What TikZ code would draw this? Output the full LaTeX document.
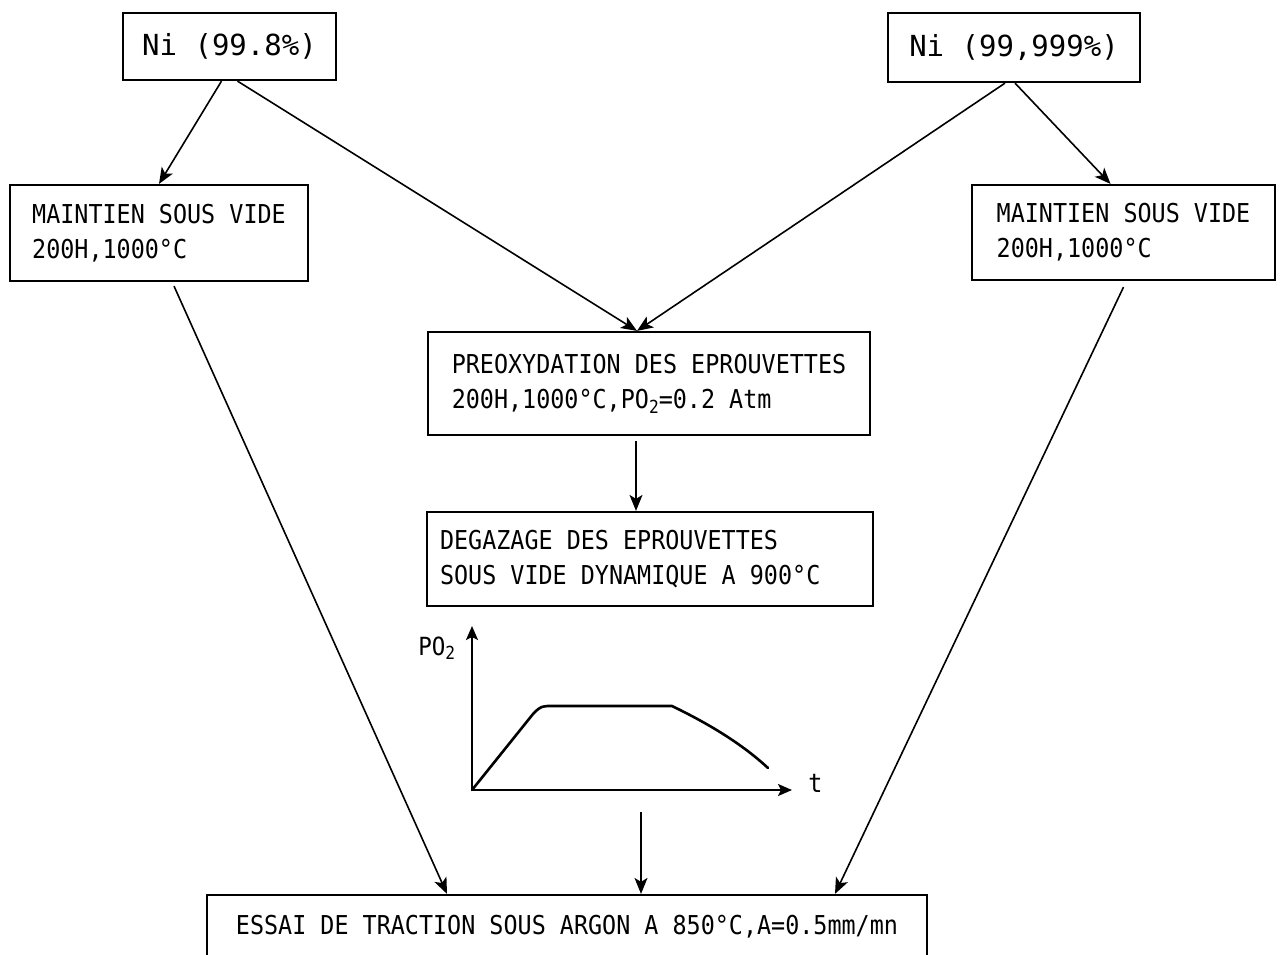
\documentclass[tikz,border=0pt]{standalone}
\usepackage{fontspec}
\newfontfamily\plotfont[FakeStretch=0.9]{DejaVu Sans Mono}
\newfontfamily\plotwide{DejaVu Sans Mono}
\usetikzlibrary{arrows.meta,calc}
\newcommand\subtwo{\raisebox{-0.35ex}{\fontsize{9}{9}\selectfont 2}}
\begin{document}
\begin{tikzpicture}[x=0.5pt,y=-0.5pt,
  box/.style={draw,line width=1.1pt,rectangle,inner sep=0pt,align=left,
    font={\plotfont\fontsize{13}{17.5}\selectfont}},
  nibox/.style={draw,line width=1.1pt,rectangle,inner sep=0pt,
    font={\plotwide\fontsize{14.5}{17}\selectfont}},
  conn/.style={line width=0.8pt,-{Stealth[length=8pt,width=6.5pt,inset=2pt]}},
  axis/.style={line width=1.1pt,-{Stealth[length=7pt,width=6pt,inset=1.5pt]}},
  curve/.style={line width=1.3pt,line cap=round,line join=round},
  lab/.style={inner sep=0pt,font={\plotfont\fontsize{13}{15}\selectfont}}]
\useasboundingbox (0,0) rectangle (1285,954);
\fill[white] (0,0) rectangle (1285,954);
\clip (0,0) rectangle (1285,954);

\node[nibox,minimum width=106.5pt,minimum height=33.5pt] (ni1) at (229.5,46.5) {Ni (99.8\%)};
\node[nibox,minimum width=126pt,minimum height=34.5pt] (ni2) at (1014,47.5) {Ni (99,999\%)};

\node[box,minimum width=149pt,minimum height=48pt] (m1) at (159,233)
  {MAINTIEN SOUS VIDE\\200H,1000°C};
\node[box,minimum width=151.5pt,minimum height=47.5pt] (m2) at (1123.5,232.5)
  {MAINTIEN SOUS VIDE\\200H,1000°C};

\node[box,minimum width=221pt,minimum height=51.5pt] (pre) at (649,383.5)
  {PREOXYDATION DES EPROUVETTES\\200H,1000°C,PO\subtwo=0.2 Atm};
\node[box,align=flush left,minimum width=223pt,minimum height=47pt,text width=210pt,inner xsep=6.5pt] (deg) at (650,559)
  {DEGAZAGE DES EPROUVETTES\\SOUS VIDE DYNAMIQUE A 900°C};

\node[box,minimum width=360pt,minimum height=32pt] (bot) at (567,927)
  {ESSAI DE TRACTION SOUS ARGON A 850°C,A=0.5mm/mn};

% graph
\coordinate (o) at (472,790);
\coordinate (ytop) at (472,626);
\coordinate (xend) at (792,790);
\draw[axis] (o) -- (ytop);
\draw[axis] (o) -- (xend);
\draw[curve] (o) -- (533,714) .. controls (541,705) and (545,706) .. (553,706)
  -- (672,706) .. controls (705,722) and (740,742) .. (768,768);
\node[lab,anchor=base west,font={\plotfont\fontsize{12.5}{14}\selectfont}] (polab) at (418,655) {PO\subtwo};
\node[lab,anchor=base west] (tlab) at (808,792) {t};
\coordinate (gout) at (641,812);

% connectors
\draw[conn] ($(ni1.south)+(-8,0)$) -- (m1.north);
\draw[conn] ($(ni1.south)+(8,0)$) -- ($(pre.north)+(-12,0)$);
\draw[conn] ($(ni2.south)+(-9,0)$) -- ($(pre.north)+(-12,0)$);
\draw[conn] ($(ni2.south)+(1,0)$) -- ($(m2.north)+(-13,0)$);
\draw[conn] ($(pre.south)+(-13,5)$) -- ($(deg.north)+(-14,0)$);
\draw[conn] ($(m1.south)+(15,4)$) -- ($(bot.north)+(-120,0)$);
\draw[conn] ($(m2.south)+(0,6)$) -- ($(bot.north)+(268,0)$);
\draw[conn] (gout) -- ($(bot.north)+(74,0)$);
\end{tikzpicture}
\end{document}
